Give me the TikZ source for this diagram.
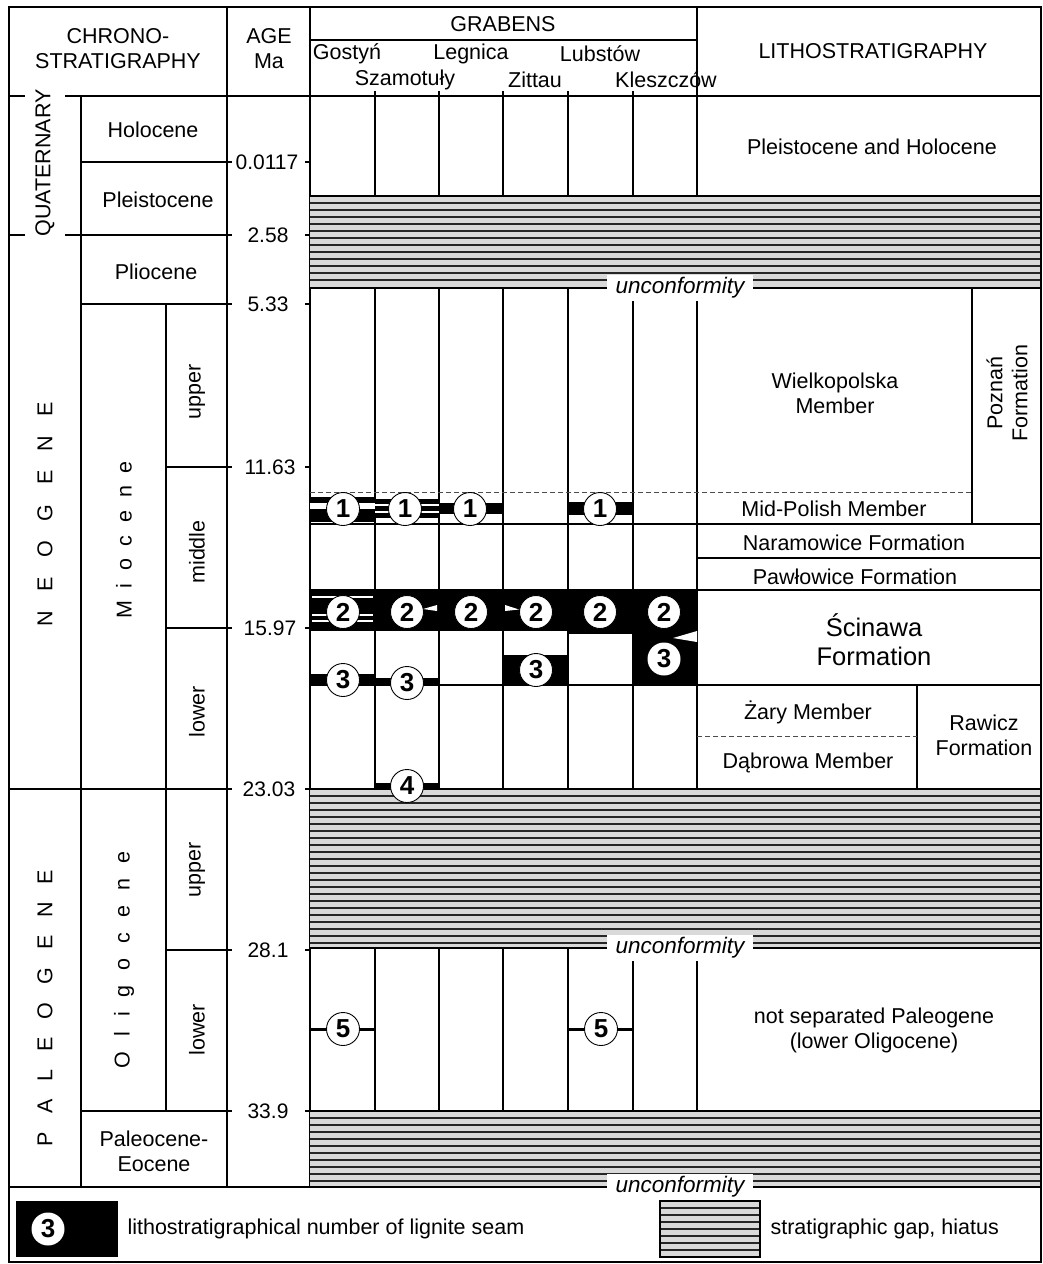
\documentclass[tikz,border=0pt]{standalone}
\usepackage{fontspec}
\setmainfont{Liberation Sans}
\newcommand{\hatchrect}[4]{%
  \fill[hatchfill] (#1,#2) rectangle (#3,#4);
  \pgfmathtruncatemacro{\hn}{floor((#4-#2-3)/7)}
  \foreach \k in {0,...,\hn}{
    \pgfmathsetmacro{\hy}{#2+\k*7}
    \draw[hatchline] (#1,\hy) -- (#3,\hy);
  }
  \draw[line width=1.8pt] (#1,#2) -- (#3,#2);
  \draw[line width=1.8pt] (#1,#4) -- (#3,#4);
}
\begin{document}
\begin{tikzpicture}[x=1pt,y=-1pt, line width=1.1pt,
  lab/.style={font=\fontsize{21.5}{25}\selectfont, inner sep=0pt, align=center},
  agelab/.style={font=\fontsize{21}{25}\selectfont, inner sep=0pt},
  rot/.style={lab, rotate=90},
  seamc/.style={circle, draw=black, line width=0.9pt, fill=white, minimum size=33pt, inner sep=0pt, font=\fontsize{26}{26}\selectfont\bfseries},
  unc/.style={font=\fontsize{22.5}{25}\selectfont\itshape, fill=white, inner xsep=9pt, inner ysep=3pt},
  seamfill/.style={fill=black},
  hatchfill/.style={fill=black!15},
  hatchline/.style={line width=1.2pt, black!85},
  dashline/.style={dash pattern=on 5pt off 3pt, line width=0.9pt, black!70},
]
\useasboundingbox (0,0) rectangle (1043,1264);
\fill[white] (0,0) rectangle (1043,1264);

% ---------- grid ----------
\draw (227,7) -- (227,1187);
\draw (310,7) -- (310,1187);
\draw (697,7) -- (697,196);
\draw (697,288) -- (697,789);
\draw (697,948) -- (697,1111);
\draw (310,40) -- (697,40);
\draw (9,96) -- (1041,96);
\foreach \xx in {375,439,503,568,633}{
  \draw (\xx,91) -- (\xx,196);
  \draw (\xx,288) -- (\xx,789);
  \draw (\xx,948) -- (\xx,1111);
}
\draw (81,96) -- (81,1187);
\draw (166,304) -- (166,1111);
\draw (81,162) -- (232,162);
\draw (9,235) -- (232,235);
\draw (81,304) -- (232,304);
\draw (166,467) -- (232,467);
\draw (166,628) -- (232,628);
\draw (9,789) -- (232,789);
\draw (166,950) -- (232,950);
\draw (81,1111) -- (232,1111);
\foreach \yy in {162,235,304,467,628,789,950,1111}{
  \draw (305,\yy) -- (310,\yy);
}
\draw (9,1187) -- (1041,1187);

% lithostratigraphy lines
\draw (972,288) -- (972,524);
\draw[dashline] (310,492) -- (972,492);
\draw (310,524) -- (1041,524);
\draw (697,558) -- (1041,558);
\draw (310,590) -- (1041,590);
\draw (310,685) -- (1041,685);
\draw (917,685) -- (917,789);
\draw[dashline] (697,736) -- (917,736);

% ---------- hiatus bands ----------
\hatchrect{310}{196}{1041}{288}
\hatchrect{310}{789}{1041}{948}
\hatchrect{310}{1111}{1041}{1187}

% ---------- seams ----------
% seam 1
\fill[seamfill] (310,497) rectangle (375,522);
\fill[white] (310,503) rectangle (375,508.5);
\fill[seamfill] (375,499) rectangle (439,518);
\fill[white] (375,503.5) rectangle (439,506);
\fill[white] (375,510.5) rectangle (439,513);
\fill[seamfill] (439,503) rectangle (503,514);
\fill[seamfill] (568,502) rectangle (633,515);
% seam 2
\fill[seamfill] (310,590) rectangle (568,631);
\fill[seamfill] (568,590) rectangle (633,634);
\fill[seamfill] (633,590) rectangle (697,685);
\foreach \yy in {597,615,621}{
  \fill[white] (312,\yy-0.8) rectangle (373,\yy+0.8);
}
\fill[white] (423,609) -- (437,605) -- (437,611) -- cycle;
\fill[white] (505,605) -- (505,611) -- (519,609.5) -- cycle;
\fill[white] (673,638) -- (697,631) -- (697,642) -- cycle;
% seam 3
\fill[seamfill] (310,674) rectangle (375,685);
\fill[seamfill] (375,678) rectangle (439,685);
\fill[seamfill] (503,655) rectangle (568,685);
% seam 4
\fill[seamfill] (375,783) rectangle (439,789.5);
% seam 5
\draw[line width=3pt] (310,1029) -- (375,1029);
\draw[line width=3pt] (568,1029) -- (633,1029);

% seam circles
\node[seamc] (s1a) at (343,509) {1};
\node[seamc] (s1b) at (405,509) {1};
\node[seamc] (s1c) at (470,509) {1};
\node[seamc] (s1d) at (600,509) {1};
\node[seamc] (s2a) at (343,612) {2};
\node[seamc] (s2b) at (407,612) {2};
\node[seamc] (s2c) at (471,612) {2};
\node[seamc] (s2d) at (536,612) {2};
\node[seamc] (s2e) at (600,612) {2};
\node[seamc] (s2f) at (664,612) {2};
\node[seamc] (s3a) at (343,680) {3};
\node[seamc] (s3b) at (407,683) {3};
\node[seamc] (s3c) at (536,670) {3};
\node[seamc, draw=none] (s3d) at (664,659) {3};
\node[seamc] (s4) at (407,786) {4};
\node[seamc] (s5a) at (343,1029) {5};
\node[seamc] (s5b) at (601,1029) {5};

% ---------- header text ----------
\node[lab] (chrono) at (118,49) {CHRONO-\\STRATIGRAPHY};
\node[lab] (age) at (269,49) {AGE\\Ma};
\node[lab] (grabens) at (503,24) {GRABENS};
\node[lab] (g1) at (347,54) {Gostyń};
\node[lab] (g2) at (405,80) {Szamotuły};
\node[lab] (g3) at (471,54) {Legnica};
\node[lab] (g4) at (535,80) {Zittau};
\node[lab] (g5) at (600,54) {Lubstów};
\node[lab] (g6) at (666,80) {Kleszczów};
\node[lab] (litho) at (873,51) {LITHOSTRATIGRAPHY};

% ---------- chronostratigraphy ----------
\node[rot, fill=white, inner ysep=10pt] (quat) at (45,163) {QUATERNARY};
\node[rot] (neog) at (45,514) {N\hspace{19.5pt}E\hspace{19.5pt}O\hspace{19.5pt}G\hspace{19.5pt}E\hspace{19.5pt}N\hspace{19.5pt}E};
\node[rot] (paleog) at (45,1008) {P\hspace{18pt}A\hspace{18pt}L\hspace{18pt}E\hspace{18pt}O\hspace{18pt}G\hspace{18pt}E\hspace{18pt}N\hspace{18pt}E};
\node[lab] (holo) at (153,130) {Holocene};
\node[lab] (pleis) at (158,200) {Pleistocene};
\node[lab] (plio) at (156,272) {Pliocene};
\node[rot] (mioc) at (124,540) {M\hspace{12.7pt}i\hspace{12.7pt}o\hspace{12.7pt}c\hspace{12.7pt}e\hspace{12.7pt}n\hspace{12.7pt}e};
\node[rot] (olig) at (124,960) {O\hspace{15pt}l\hspace{15pt}i\hspace{15pt}g\hspace{15pt}o\hspace{15pt}c\hspace{15pt}e\hspace{15pt}n\hspace{15pt}e};
\node[rot] (mup) at (197,392) {upper};
\node[rot] (mmid) at (197,552) {middle};
\node[rot] (mlow) at (197,712) {lower};
\node[rot] (oup) at (197,870) {upper};
\node[rot] (olow) at (197,1030) {lower};
\node[lab] (paleoc) at (154,1151) {Paleocene-\\Eocene};

% ages
\node[agelab] (a1) at (267,162) {0.0117};
\node[agelab] (a2) at (268,235) {2.58};
\node[agelab] (a3) at (268,304) {5.33};
\node[agelab] (a4) at (270,467) {11.63};
\node[agelab] (a5) at (270,628) {15.97};
\node[agelab] (a6) at (269,789) {23.03};
\node[agelab] (a7) at (268,950) {28.1};
\node[agelab] (a8) at (268,1111) {33.9};

% ---------- lithostratigraphy text ----------
\node[lab] (ph) at (872,147) {Pleistocene and Holocene};
\node[lab] (wielk) at (835,393) {Wielkopolska\\Member};
\node[rot] (pozn) at (1007,393) {Poznań\\Formation};
\node[lab] (midp) at (834,509) {Mid-Polish Member};
\node[lab] (naram) at (854,543) {Naramowice Formation};
\node[lab] (pawl) at (855,577) {Pawłowice Formation};
\node[lab, font=\fontsize{25.5}{29}\selectfont] (scin) at (874,640) {Ścinawa\\Formation};
\node[lab] (zary) at (808,712) {Żary Member};
\node[lab] (dabr) at (808,763) {Dąbrowa Member};
\node[lab] (rawicz) at (984,735) {Rawicz\\Formation};
\node[lab] (notsep) at (874,1030) {not separated Paleogene\\(lower Oligocene)};

% unconformity labels
\node[unc] (u1) at (680,288) {unconformity};
\node[unc] (u2) at (680,948) {unconformity};
\node[unc] (u3) at (680,1187) {unconformity};

% ---------- legend ----------
\fill[black] (16,1201) rectangle (118,1257);
\node[seamc, draw=none] (lcirc) at (48,1229) {3};
\node[lab, anchor=west] (lt1) at (127,1229) {lithostratigraphical number of lignite seam};
\hatchrect{660}{1201}{760}{1257}
\draw (660,1201) rectangle (760,1257);
\node[lab, anchor=west] (lt2) at (770,1229) {stratigraphic gap, hiatus};

% frame
\draw[line width=1.6pt] (9,7) rectangle (1041,1262);
\end{tikzpicture}
\end{document}
